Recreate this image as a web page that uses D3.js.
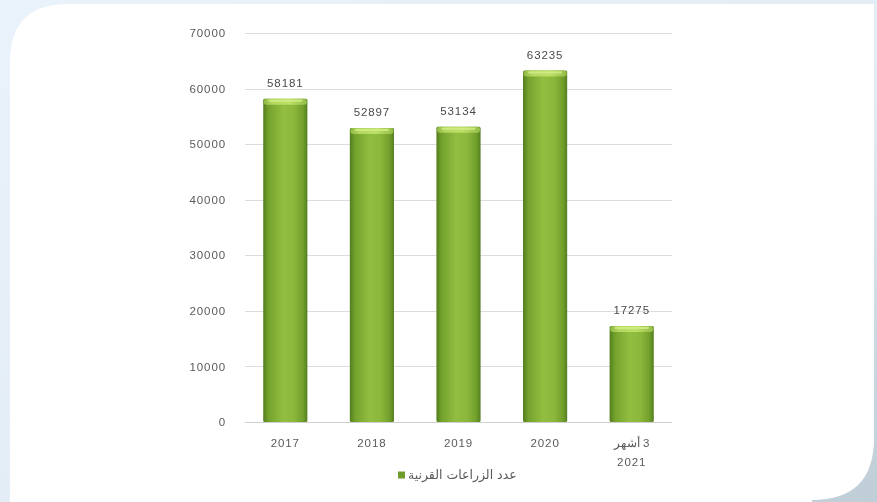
<!DOCTYPE html>
<html>
<head>
<meta charset="utf-8">
<script src="https://cdn.jsdelivr.net/npm/d3@7"></script>
<style>
  html, body { margin: 0; padding: 0; background: #e8f2fa; }
  svg { display: block; }
</style>
</head>
<body>
<svg id="chart" width="877" height="502"></svg>
<script>
// Corneal transplants per period
const categories = ["2017", "2018", "2019", "2020", "3 أشهر\n2021"];
const transplants = [58181, 52897, 53134, 63235, 17275];
const yTicks = [0, 10000, 20000, 30000, 40000, 50000, 60000, 70000];
const legendLabel = "عدد الزراعات القرنية";

const W = 877, H = 502;
const svg = d3.select("#chart");
const defs = svg.append("defs");

// page background with a soft shade toward the lower right
const bgGrad = defs.append("linearGradient").attr("id", "bgGrad")
  .attr("x1", 0).attr("y1", 0).attr("x2", 1).attr("y2", 1);
bgGrad.append("stop").attr("offset", "0%").attr("stop-color", "#eaf3fb");
bgGrad.append("stop").attr("offset", "60%").attr("stop-color", "#e2ecf4");
bgGrad.append("stop").attr("offset", "100%").attr("stop-color", "#bfcdd6");
svg.append("rect").attr("width", W).attr("height", H).attr("fill", "url(#bgGrad)");

// white card: rounded top-left and bottom-right corners
const cx0 = 10, cy0 = 4, cx1 = 874, cy1 = 500, rTL = 58, rBR = 62;
const cardPath = d3.path();
cardPath.moveTo(cx0, cy0 + rTL);
cardPath.quadraticCurveTo(cx0, cy0, cx0 + rTL, cy0);
cardPath.lineTo(cx1, cy0);
cardPath.lineTo(cx1, cy1 - rBR);
cardPath.quadraticCurveTo(cx1, cy1, cx1 - rBR, cy1);
cardPath.lineTo(cx0, cy1);
cardPath.lineTo(cx0, H);
cardPath.closePath();
svg.append("path").attr("d", cardPath.toString()).attr("fill", "#ffffff");
svg.append("rect").attr("x", cx0).attr("y", cy1 - 2).attr("width", cx1 - cx0 - rBR).attr("height", H - cy1 + 2).attr("fill", "#ffffff");

// soft focus on the chart content
const blur = defs.append("filter").attr("id", "soft").attr("x", "-5%").attr("y", "-5%").attr("width", "110%").attr("height", "110%");
blur.append("feGaussianBlur").attr("stdDeviation", 0.6);

const g = svg.append("g").attr("filter", "url(#soft)");

const x = d3.scaleBand().domain(categories).range([242, 675]).paddingInner(0.49).paddingOuter(0.245);
const y = d3.scaleLinear().domain([0, 70000]).range([422, 33]);

const font = "'Liberation Sans', Arial, sans-serif";
const txt = "#5a5a5a";
const fs = 11.5, ls = 0.9;

// horizontal gridlines
g.append("g").selectAll("line").data(yTicks.filter(d => d > 0)).join("line")
  .attr("x1", 245).attr("x2", 672)
  .attr("y1", d => Math.round(y(d)) + 0.5).attr("y2", d => Math.round(y(d)) + 0.5)
  .attr("stroke", "#dcdcdc").attr("stroke-width", 1);

// y axis labels
const yAxis = d3.axisLeft(y).tickValues(yTicks).tickSize(0).tickPadding(0).tickFormat(d3.format("d"));
const ya = g.append("g").attr("transform", "translate(226,0)").call(yAxis);
ya.select(".domain").remove();
ya.selectAll("text").attr("font-family", font).attr("font-size", fs).attr("letter-spacing", ls).attr("fill", txt);

// bar shading: darker sides, lighter middle
const barGrad = defs.append("linearGradient").attr("id", "barGrad").attr("x1", 0).attr("x2", 1).attr("y1", 0).attr("y2", 0);
[["0%", "#537e1f"], ["12%", "#74a22d"], ["45%", "#92be40"], ["70%", "#8bb73b"], ["90%", "#729f2c"], ["100%", "#547f20"]]
  .forEach(([o, c]) => barGrad.append("stop").attr("offset", o).attr("stop-color", c));
const capGrad = defs.append("linearGradient").attr("id", "capGrad").attr("x1", 0).attr("x2", 1).attr("y1", 0).attr("y2", 0);
[["0%", "#8fb844"], ["20%", "#b3d760"], ["60%", "#bde068"], ["100%", "#93bc48"]]
  .forEach(([o, c]) => capGrad.append("stop").attr("offset", o).attr("stop-color", c));

const data = categories.map((c, i) => ({ c, v: transplants[i] }));
const bars = g.append("g").selectAll("g").data(data).join("g");
bars.append("rect")
  .attr("x", d => x(d.c)).attr("width", x.bandwidth())
  .attr("y", d => y(d.v)).attr("height", d => y(0) - y(d.v))
  .attr("rx", 1.5)
  .attr("fill", "url(#barGrad)");
bars.append("rect")
  .attr("x", d => x(d.c) + 0.5).attr("width", x.bandwidth() - 1)
  .attr("y", d => y(d.v)).attr("height", 6)
  .attr("rx", 3)
  .attr("fill", "url(#capGrad)");
bars.append("rect")
  .attr("x", d => x(d.c) + 5).attr("width", x.bandwidth() - 10)
  .attr("y", d => y(d.v) + 1).attr("height", 2)
  .attr("rx", 1)
  .attr("fill", "#d6ee8a").attr("opacity", 0.8);

// value labels
bars.append("text")
  .attr("x", d => x(d.c) + x.bandwidth() / 2)
  .attr("y", d => y(d.v) - 12)
  .attr("text-anchor", "middle")
  .attr("font-family", font).attr("font-size", fs).attr("letter-spacing", ls).attr("fill", "#4a4a4a")
  .text(d => d.v);

// baseline
g.append("line").attr("x1", 245).attr("x2", 672)
  .attr("y1", Math.round(y(0)) + 0.5).attr("y2", Math.round(y(0)) + 0.5)
  .attr("stroke", "#cfcfcf");

// category labels (Arabic line laid out right to left)
const xa = g.append("g");
data.forEach(d => {
  const lines = d.c.split("\n");
  const cx = x(d.c) + x.bandwidth() / 2;
  lines.forEach((ln, k) => {
    const rtl = /[\u0600-\u06FF]/.test(ln);
    xa.append("text")
      .attr("x", cx)
      .attr("y", 447 + k * 19)
      .attr("text-anchor", "middle")
      .attr("direction", rtl ? "rtl" : "ltr")
      .attr("font-family", font).attr("font-size", fs).attr("letter-spacing", rtl ? 0 : ls).attr("fill", txt)
      .text(ln);
  });
});

// legend
const lg = g.append("g").attr("transform", "translate(398,475)");
lg.append("rect").attr("x", 0).attr("y", -3.5).attr("width", 7).attr("height", 7).attr("fill", "#6f9c2b");
lg.append("text").attr("x", 10).attr("y", 0).attr("dy", "0.35em")
  .attr("font-family", "'DejaVu Sans', sans-serif").attr("font-size", 12.5).attr("fill", txt)
  .attr("direction", "rtl").attr("text-anchor", "end")
  .text(legendLabel);
</script>
</body>
</html>
